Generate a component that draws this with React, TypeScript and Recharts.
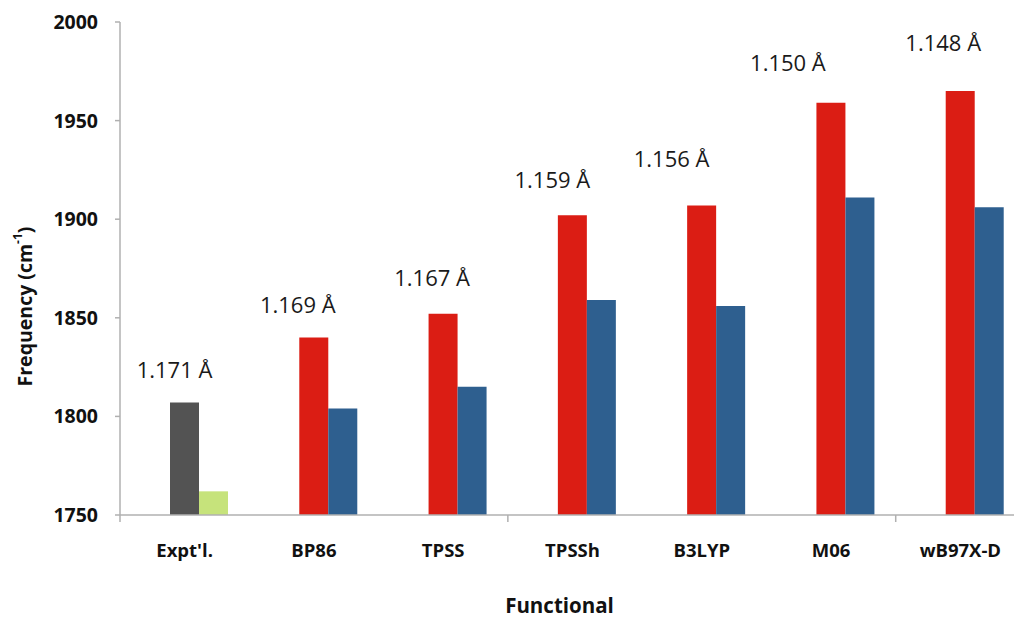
import { BarChart, Bar, XAxis, YAxis, Cell, LabelList } from 'recharts';

// CO stretching frequency per functional, with the computed C–O bond length over each pair
const FUNCTIONALS = ["Expt'l.", 'BP86', 'TPSS', 'TPSSh', 'B3LYP', 'M06', 'wB97X-D'];
const FREQ_MAIN = [1807, 1840, 1852, 1902, 1907, 1959, 1965];
const FREQ_SECOND = [1762, 1804, 1815, 1859, 1856, 1911, 1906];
const BOND_LENGTHS = ['1.171 Å', '1.169 Å', '1.167 Å', '1.159 Å', '1.156 Å', '1.150 Å', '1.148 Å'];
const Y_TICKS = [1750, 1800, 1850, 1900, 1950, 2000];

// text boxes sit a little off-centre above each pair
const LABEL_DX = [-10, -16, -11, -20, -30, -43, -17];
const LABEL_DY = [34, 34, 37, 36, 47, 41, 49];

const FONT = '"Open Sans", Arial, sans-serif';
const AXIS_GREY = '#b0b0b0';
const X_TICK_SIZE = 6;
const X_TICK_MARGIN = 23;
const MARK_EVERY = 3;

const data = FUNCTIONALS.map((name, i) => ({
  name,
  idx: i,
  main: FREQ_MAIN[i],
  second: FREQ_SECOND[i],
  bond: BOND_LENGTHS[i],
}));

const mainColor = (i: number) => (i === 0 ? '#535353' : '#db1d14');
const secondColor = (i: number) => (i === 0 ? '#c6e37b' : '#2e5f8f');

const BondLabel = (props: any) => {
  const { x, y, width, index, value } = props;
  return (
    <text
      x={x + width / 2 + LABEL_DX[index]}
      y={y - LABEL_DY[index]}
      textAnchor="middle"
      dominantBaseline="central"
      fontFamily={FONT}
      fontSize={22}
      fill="#1a1a1a"
    >
      {value}
    </text>
  );
};

// category name plus a boundary tick mark on every third category's left edge
const CategoryTick = (props: any) => {
  const { x, y, payload, index } = props;
  const axisY = y - X_TICK_SIZE - X_TICK_MARGIN;
  const left = x - (payload.offset || 0);
  return (
    <g>
      {index % MARK_EVERY === 0 && (
        <line x1={left} x2={left} y1={axisY} y2={axisY + 7} stroke={AXIS_GREY} strokeWidth={1.5} />
      )}
      <text x={x} y={y} dy="0.71em" textAnchor="middle" fontFamily={FONT} fontSize={18.5} fontWeight={700} fill="#111">
        {payload.value}
      </text>
    </g>
  );
};

const XTitle = ({ viewBox }: any) => (
  <text
    x={viewBox.x + viewBox.width / 2 - 13}
    y={viewBox.y + viewBox.height - 6}
    textAnchor="middle"
    fontFamily={FONT}
    fontSize={20.5}
    fontWeight={700}
    fill="#111"
  >
    Functional
  </text>
);

const YTitle = ({ viewBox }: any) => {
  const cy = viewBox.y + viewBox.height / 2;
  return (
    <text
      transform={`translate(24, ${cy + 38}) rotate(-90)`}
      textAnchor="middle"
      dominantBaseline="central"
      fontFamily={FONT}
      fontSize={19.5}
      fontWeight={700}
      fill="#111"
    >
      Frequency (cm<tspan dy={-7} fontSize={12}>-1</tspan><tspan dy={7}>)</tspan>
    </text>
  );
};

export default function App() {
  return (
    <div style={{ position: 'absolute', left: 0, top: 0, width: 1014, height: 619, overflow: 'hidden', background: '#fff' }}>
      <BarChart
        width={1040}
        height={619}
        data={data}
        margin={{ top: 22, right: 15, left: 0, bottom: 0 }}
        barSize={29}
        barGap={0}
      >
        <XAxis
          dataKey="name"
          height={104}
          tickLine={false}
          tickSize={X_TICK_SIZE}
          axisLine={{ stroke: AXIS_GREY, strokeWidth: 1.5 }}
          tickMargin={X_TICK_MARGIN}
          interval={0}
          tick={<CategoryTick />}
          label={<XTitle />}
        />
        <YAxis
          domain={[1750, 2000]}
          ticks={Y_TICKS}
          width={120}
          tickSize={5}
          tickMargin={17}
          axisLine={{ stroke: AXIS_GREY, strokeWidth: 1.5 }}
          tickLine={{ stroke: AXIS_GREY, strokeWidth: 1.5 }}
          tick={{ fontFamily: FONT, fontSize: 19.5, fontWeight: 700, fill: '#111' }}
          label={<YTitle />}
        />
        {/* empty first slot of the cluster */}
        <Bar dataKey="none" fill="none" isAnimationActive={false} />
        <Bar dataKey="main" isAnimationActive={false}>
          {data.map((d) => (
            <Cell key={d.name} fill={mainColor(d.idx)} />
          ))}
          <LabelList dataKey="bond" content={<BondLabel />} />
        </Bar>
        <Bar dataKey="second" isAnimationActive={false}>
          {data.map((d) => (
            <Cell key={d.name} fill={secondColor(d.idx)} />
          ))}
        </Bar>
      </BarChart>
    </div>
  );
}
